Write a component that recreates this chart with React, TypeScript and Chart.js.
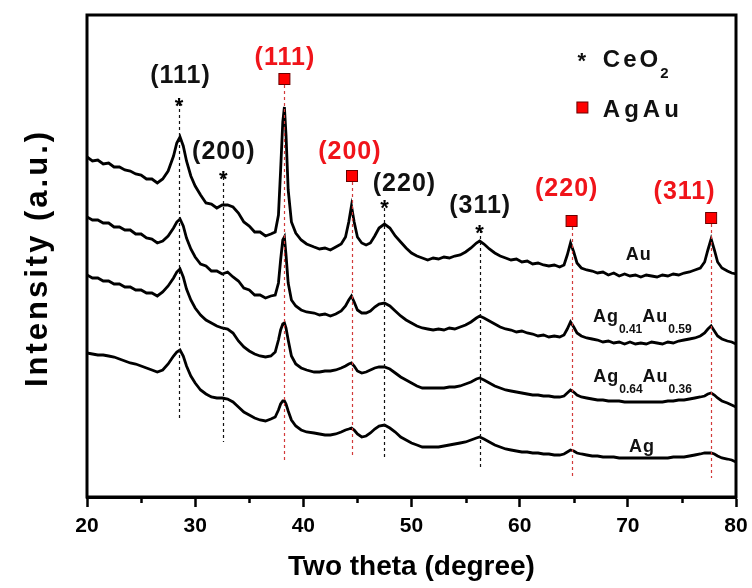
import React, { useEffect, useRef } from 'react';
import { Chart, registerables } from 'chart.js';

Chart.register(...registerables);

// ---------- data (2θ in degrees, intensity in arbitrary units) ----------
const twoTheta = [
  20, 20.5, 21, 21.5, 22, 22.5, 23, 23.5, 24, 24.5, 25, 25.5, 26, 26.5, 27, 27.5, 28,
  28.3, 28.6, 28.9, 29.2, 29.6,
  30, 30.5, 31, 31.5, 32, 32.5, 33, 33.5, 34, 34.5, 35, 35.5, 36, 36.5, 37,
  37.4, 37.7, 37.9, 38.1, 38.25, 38.4, 38.6, 38.9, 39.3, 39.8, 40.3,
  41, 41.5, 42, 42.5, 43, 43.5,
  43.9, 44.2, 44.45, 44.7, 45, 45.4, 45.8, 46.2, 46.6, 47, 47.5, 48, 48.5, 49, 49.5, 50, 50.5, 51, 51.5, 52, 52.5, 53, 53.5, 54, 54.5, 55, 55.5, 56,
  56.3, 56.7,
  57.2, 57.7, 58.2, 58.7, 59.2, 59.7, 60.2, 60.7, 61.2, 61.7, 62.2, 62.7, 63.2, 63.7,
  64.1, 64.4, 64.7, 65, 65.3, 65.7,
  66.2, 66.7, 67.2, 67.7, 68.2, 68.7, 69.2, 69.7, 70.2, 70.7, 71.2, 71.7, 72.2, 72.7, 73.2, 73.7, 74.2, 74.7, 75.2, 75.7, 76.2, 76.7,
  77.1, 77.4, 77.7, 78, 78.3, 78.7, 79.2, 79.6, 80,
];

const intensityAu = [
  340, 336, 337, 333, 334, 330, 330, 327, 326, 323, 322, 318, 318, 314, 318, 326, 341,
  354, 360, 351, 336, 321,
  311, 302, 294, 293, 289, 292, 292, 290, 284, 275, 271, 265, 265, 261, 263,
  265, 282, 327, 375, 390, 362, 307, 275, 264, 257, 253,
  250, 248, 249, 247, 250, 253,
  260, 275, 291, 275, 260, 254, 252, 254, 261, 269, 273, 269, 261, 255, 249, 244, 241, 239, 237, 239, 238, 240, 239, 241, 242, 245, 249, 254,
  256, 253,
  248, 244, 241, 239, 237, 238, 235, 236, 233, 234, 232, 231, 232, 230,
  232, 242, 254, 245, 234, 229,
  227, 226, 224, 225, 222, 224, 221, 223, 221, 222, 220, 222, 221, 220, 222, 221, 223, 222, 224, 225, 227, 229,
  235, 247, 258, 247, 235, 229, 226, 224, 223,
];

const intensityAg41Au59 = [
  280, 277, 277, 274, 274, 270, 270, 267, 267, 263, 263, 259, 258, 254, 256, 261, 269,
  275, 278, 271, 259, 248,
  240, 233, 231, 226, 226, 223, 225, 220, 216, 209, 207, 202, 202, 199, 201,
  202, 214, 237, 257, 260, 242, 214, 197, 191, 187, 185,
  184, 182, 183, 181, 183, 186,
  191, 197, 201, 195, 187, 184, 184, 186, 190, 193, 194, 191, 186, 181, 177, 174, 171, 169, 168, 167, 168, 167, 169, 168, 170, 172, 175, 179,
  181, 179,
  176, 173, 170, 168, 167, 165, 166, 164, 163, 161, 162, 160, 161, 160,
  162, 168, 175, 170, 164, 161,
  159, 158, 157, 155, 156, 154, 155, 153, 155, 153, 154, 153, 155, 154, 153, 155, 154, 156, 157, 158, 159, 161,
  164, 168, 171, 166, 161, 158, 156, 155, 153,
];

const intensityAg64Au36 = [
  222, 219, 219, 216, 216, 213, 213, 210, 210, 207, 207, 204, 204, 201, 205, 211, 219,
  225, 228, 220, 208, 197,
  189, 182, 177, 174, 171, 169, 168, 164, 156, 150, 146, 143, 141, 140, 141,
  145, 157, 167, 173, 174, 169, 157, 141, 133, 129, 127,
  125, 125, 126, 126, 127, 129,
  131, 133, 134, 131, 126, 124, 125, 127, 129, 130, 130, 128, 124, 120, 117, 114, 111, 109, 109, 109, 109, 109, 110, 110, 111, 113, 115, 118,
  119, 117,
  114, 111, 109, 107, 106, 105, 104, 103, 102, 102, 101, 101, 100, 100,
  101, 104, 107, 105, 102, 100,
  99, 98, 97, 97, 96, 96, 96, 95, 95, 95, 95, 95, 95, 95, 95, 96, 96, 97, 97, 98, 99, 100,
  101, 103, 104, 102, 99, 96, 94, 92, 90,
];

const intensityAg = [
  144, 143, 142, 142, 141, 140, 138, 136, 134, 133, 131, 129, 127, 125, 127, 133, 141,
  145, 147, 141, 131, 121,
  114, 107, 103, 100, 99, 99, 98, 95, 90, 85, 82, 79, 77, 76, 78,
  80, 87, 93, 96, 96, 93, 86, 77, 71, 67, 65,
  64, 63, 62, 62, 63, 65,
  67, 68, 69, 67, 63, 60, 61, 64, 68, 71, 72, 69, 65, 60, 57, 54, 52, 50, 50, 50, 50, 51, 52, 53, 54, 55, 57, 59,
  60, 58,
  55, 52, 50, 48, 47, 46, 45, 45, 44, 44, 43, 43, 42, 42,
  43, 45, 47, 46, 44, 43,
  42, 41, 41, 40, 40, 40, 39, 39, 39, 39, 39, 39, 39, 39, 39, 39, 40, 40, 40, 41, 42, 43,
  44, 44, 44, 43, 41, 39, 38, 37, 35,
];

const seriesList = [intensityAu, intensityAg41Au59, intensityAg64Au36, intensityAg];

const minorTicks = [25, 35, 45, 55, 65, 75];

// reference peaks
const ceo2Peaks = [28.5, 32.6, 47.5, 56.3];
const ceo2Labels = ['(111)', '(200)', '(220)', '(311)'];
const agauPeaks = [38.25, 44.5, 64.8, 77.7];
const agauLabels = ['(111)', '(200)', '(220)', '(311)'];

// ---------- annotation layout (data coordinates) ----------
const ceo2LabelPos = [[28.6, 421], [32.6, 345], [49.3, 313], [56.3, 291]];
const ceo2StarY = [397, 324, 295, 270];
const ceo2LineY = [[394, 79], [320, 55], [289, 38], [267, 27]];
const agauLabelPos = [[38.25, 439], [44.26, 345], [64.3, 308], [75.2, 305]];
const agauSquareY = [418, 321, 276, 279];
const agauLineY = [[412, 34], [315, 39], [270, 19], [273, 19]];

const FONT = '"Liberation Sans", Arial, sans-serif';
const RED = '#f0141a';

type Part = { t: string; sub?: boolean };
const sampleLabels: { parts: Part[]; x: number; y: number; center?: boolean }[] = [
  { parts: [{ t: 'Au' }], x: 71.0, y: 237, center: true },
  { parts: [{ t: 'Ag' }, { t: '0.41', sub: true }, { t: 'Au' }, { t: '0.59', sub: true }], x: 66.77, y: 175 },
  { parts: [{ t: 'Ag' }, { t: '0.64', sub: true }, { t: 'Au' }, { t: '0.36', sub: true }], x: 66.8, y: 115 },
  { parts: [{ t: 'Ag' }], x: 71.3, y: 45, center: true },
];

const annotationPlugin = {
  id: 'xrdAnnotations',
  afterDraw(chart: any) {
    const { ctx, chartArea } = chart;
    const xs = chart.scales.x;
    const ys = chart.scales.y;
    const px = (v: number) => xs.getPixelForValue(v);
    const py = (v: number) => ys.getPixelForValue(v);
    ctx.save();

    // frame
    ctx.strokeStyle = '#000';
    ctx.lineWidth = 3;
    ctx.strokeRect(chartArea.left, chartArea.top, chartArea.right - chartArea.left, chartArea.bottom - chartArea.top);

    // minor ticks
    ctx.lineWidth = 2.5;
    minorTicks.forEach((v) => {
      const x = Math.round(px(v)) + 0.5;
      ctx.beginPath();
      ctx.moveTo(x, chartArea.bottom);
      ctx.lineTo(x, chartArea.bottom + 6);
      ctx.stroke();
    });

    // dashed lines
    ctx.lineWidth = 1.2;
    ctx.setLineDash([3, 3]);
    ctx.strokeStyle = '#111';
    ceo2Peaks.forEach((p, i) => {
      const x = Math.round(px(p)) + 0.5;
      ctx.beginPath();
      ctx.moveTo(x, py(ceo2LineY[i][0]));
      ctx.lineTo(x, py(ceo2LineY[i][1]));
      ctx.stroke();
    });
    ctx.strokeStyle = '#d23a3a';
    agauPeaks.forEach((p, i) => {
      const x = Math.round(px(p)) + 0.5;
      ctx.beginPath();
      ctx.moveTo(x, py(agauLineY[i][0]));
      ctx.lineTo(x, py(agauLineY[i][1]));
      ctx.stroke();
    });
    ctx.setLineDash([]);

    // asterisks
    ctx.fillStyle = '#000';
    ctx.textAlign = 'center';
    ctx.textBaseline = 'alphabetic';
    ctx.font = `bold 22px ${FONT}`;
    ceo2Peaks.forEach((p, i) => {
      ctx.fillText('*', px(p), py(ceo2StarY[i]) + 13);
    });

    // squares
    agauPeaks.forEach((p, i) => {
      const x = px(p);
      const y = py(agauSquareY[i]);
      ctx.fillStyle = '#ff0000';
      ctx.fillRect(x - 5.5, y - 5.5, 11, 11);
      ctx.strokeStyle = '#6a0000';
      ctx.lineWidth = 1;
      ctx.strokeRect(x - 5.5, y - 5.5, 11, 11);
    });

    // peak labels
    ctx.font = `bold 25px ${FONT}`;
    ctx.textBaseline = 'middle';
    ctx.textAlign = 'center';
    (ctx as any).letterSpacing = '1px';
    ctx.fillStyle = '#111';
    ceo2Labels.forEach((t, i) => {
      ctx.fillText(t, px(ceo2LabelPos[i][0]) + 0.5, py(ceo2LabelPos[i][1]));
    });
    ctx.fillStyle = RED;
    agauLabels.forEach((t, i) => {
      ctx.fillText(t, px(agauLabelPos[i][0]) + 0.5, py(agauLabelPos[i][1]));
    });

    // sample labels
    ctx.fillStyle = '#111';
    ctx.textBaseline = 'alphabetic';
    sampleLabels.forEach((lab) => {
      const measure = (p: Part) => {
        ctx.font = p.sub ? `bold 12px ${FONT}` : `bold 18px ${FONT}`;
        (ctx as any).letterSpacing = p.sub ? '0px' : '1px';
        return ctx.measureText(p.t).width;
      };
      const total = lab.parts.reduce((s, p) => s + measure(p), 0);
      let x = lab.center ? px(lab.x) - total / 2 : px(lab.x);
      const base = py(lab.y);
      ctx.textAlign = 'left';
      lab.parts.forEach((p) => {
        const w = measure(p);
        ctx.fillText(p.t, x, p.sub ? base + 11 : base);
        x += w;
      });
    });

    // legend
    ctx.textAlign = 'center';
    ctx.font = `bold 22px ${FONT}`;
    (ctx as any).letterSpacing = '0px';
    ctx.fillText('*', px(65.75), py(442) + 13);
    ctx.textAlign = 'left';
    ctx.font = `bold 24px ${FONT}`;
    (ctx as any).letterSpacing = '3px';
    const lx = px(67.69);
    ctx.fillText('CeO', lx, py(430));
    const w = ctx.measureText('CeO').width;
    ctx.font = `bold 15px ${FONT}`;
    (ctx as any).letterSpacing = '0px';
    ctx.fillText('2', lx + w - 1, py(430) + 11);
    const sx = px(65.8);
    const sy = py(389.5);
    ctx.fillStyle = '#ff0000';
    ctx.fillRect(sx - 5.5, sy - 5.5, 11, 11);
    ctx.strokeStyle = '#6a0000';
    ctx.lineWidth = 1;
    ctx.strokeRect(sx - 5.5, sy - 5.5, 11, 11);
    ctx.fillStyle = '#111';
    ctx.font = `bold 24px ${FONT}`;
    (ctx as any).letterSpacing = '4px';
    ctx.fillText('AgAu', lx, py(380));

    // y-axis title
    ctx.save();
    ctx.translate(chartArea.left - 49, (chartArea.top + chartArea.bottom) / 2 + 2);
    ctx.rotate(-Math.PI / 2);
    ctx.textAlign = 'center';
    ctx.textBaseline = 'middle';
    ctx.font = `bold 31px ${FONT}`;
    (ctx as any).letterSpacing = '3px';
    ctx.fillStyle = '#000';
    ctx.fillText('Intensity (a.u.)', 0, 0);
    ctx.restore();

    (ctx as any).letterSpacing = '0px';
    ctx.restore();
  },
};

export default function App() {
  const ref = useRef<HTMLCanvasElement | null>(null);

  useEffect(() => {
    document.body.style.margin = '0';
    const canvas = ref.current;
    if (!canvas) return;
    const datasets = seriesList.map((vals) => ({
      data: twoTheta.map((x, i) => ({ x, y: vals[i] })),
      showLine: true,
      borderColor: '#000',
      borderWidth: 2.8,
      pointRadius: 0,
      tension: 0,
      fill: false,
    }));
    const chart = new Chart(canvas, {
      type: 'scatter',
      data: { datasets },
      options: {
        responsive: false,
        animation: false,
        devicePixelRatio: 1,
        layout: { autoPadding: false, padding: { left: 87, right: 16, top: 15, bottom: 0 } },
        plugins: { legend: { display: false }, tooltip: { enabled: false }, title: { display: false } },
        scales: {
          x: {
            type: 'linear',
            min: 20,
            max: 80,
            afterFit: (s: any) => { s.height = 91; s.paddingLeft = 0; s.paddingRight = 0; },
            ticks: {
              stepSize: 10,
              color: '#000',
              padding: 7,
              font: { family: FONT, size: 21, weight: 'bold' },
              maxRotation: 0,
            },
            grid: {
              display: true,
              drawOnChartArea: false,
              drawTicks: true,
              tickLength: 10,
              tickWidth: 2.5,
              tickColor: '#000',
            },
            border: { display: true, color: '#000', width: 3 },
            title: {
              display: true,
              text: 'Two theta (degree)',
              color: '#000',
              font: { family: FONT, size: 28, weight: 'bold' },
              padding: { top: 0, bottom: 4 },
            },
          },
          y: {
            type: 'linear',
            display: false,
            min: 0,
            max: 482,
          },
        },
      },
      plugins: [annotationPlugin],
    } as any);
    return () => chart.destroy();
  }, []);

  return (
    <div style={{ width: 752, height: 588 }}>
      <canvas ref={ref} width={752} height={588} style={{ display: 'block', width: 752, height: 588 }} />
    </div>
  );
}
